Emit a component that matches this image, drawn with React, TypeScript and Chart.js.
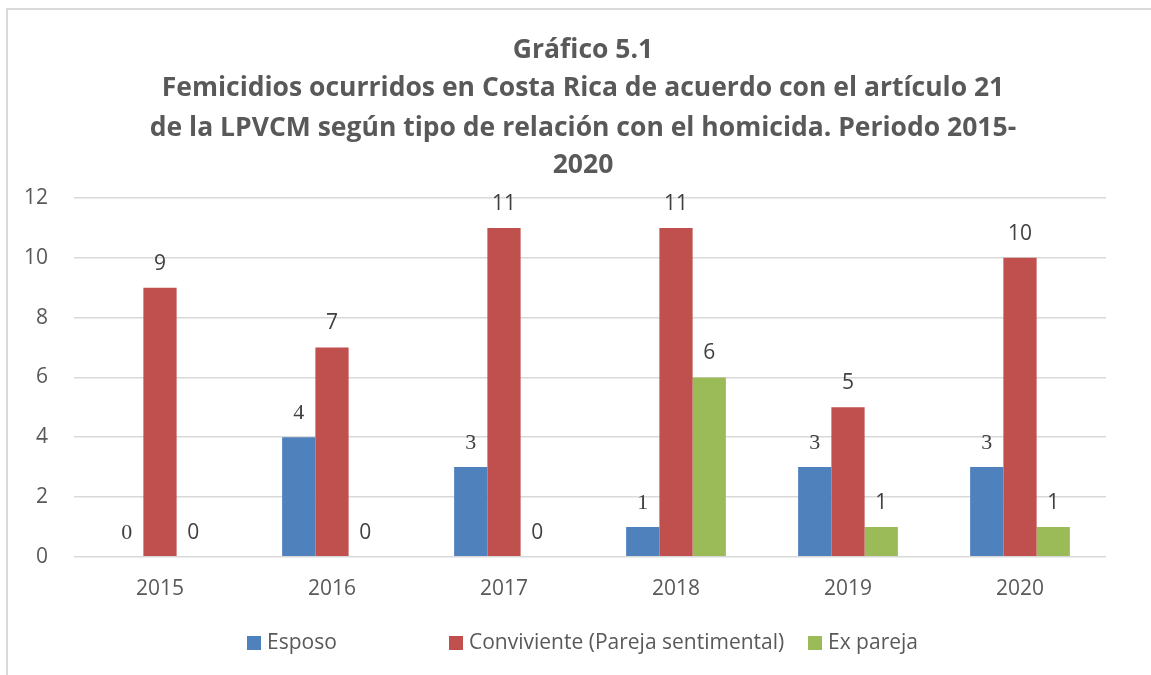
import React, { useEffect, useRef } from "react";
import { Chart, registerables } from "chart.js";

Chart.register(...registerables);

const categories = ["2015", "2016", "2017", "2018", "2019", "2020"];
const esposo = [0, 4, 3, 1, 3, 3];
const conviviente = [9, 7, 11, 11, 5, 10];
const exPareja = [0, 0, 0, 6, 1, 1];
const seriesNames = ["Esposo", "Conviviente (Pareja sentimental)", "Ex pareja"];
const seriesColors = ["#4F81BD", "#C0504D", "#9BBB59"];
const yMin = 0;
const yMax = 12;
const yStep = 2;
const titleLines = [
  "Gráfico 5.1",
  "Femicidios ocurridos en Costa Rica de acuerdo con el artículo 21",
  "de la LPVCM según tipo de relación con el homicida. Periodo 2015-",
  "2020",
];

const TEXT = "#595959";
const LABEL = "#404040";
const SANS = '"Open Sans", "Liberation Sans", sans-serif';
const SERIF = '"Liberation Serif", "DejaVu Serif", serif';

const titleLayout = { centerX: 583, ys: [50, 88, 128, 165], size: 26.5 };
const legendLayout = { y: 643, box: 14, gap: 6, xs: [247, 449, 808], size: 21 };

const titlePlugin = {
  id: "customTitle",
  afterDraw(chart: any) {
    const ctx = chart.ctx;
    ctx.save();
    ctx.fillStyle = TEXT;
    ctx.font = `bold ${titleLayout.size}px ${SANS}`;
    ctx.textAlign = "center";
    ctx.textBaseline = "middle";
    titleLines.forEach((t, i) => ctx.fillText(t, titleLayout.centerX, titleLayout.ys[i]));
    ctx.restore();
  },
};

const legendPlugin = {
  id: "customLegend",
  afterDraw(chart: any) {
    const ctx = chart.ctx;
    ctx.save();
    ctx.font = `${legendLayout.size}px ${SANS}`;
    ctx.textBaseline = "middle";
    ctx.textAlign = "left";
    chart.data.datasets.forEach((ds: any, i: number) => {
      const x = legendLayout.xs[i];
      ctx.fillStyle = ds.backgroundColor;
      ctx.fillRect(x, legendLayout.y - legendLayout.box / 2, legendLayout.box, legendLayout.box);
      ctx.fillStyle = TEXT;
      ctx.fillText(ds.label, x + legendLayout.box + legendLayout.gap, legendLayout.y);
    });
    ctx.restore();
  },
};

const valueLabelPlugin = {
  id: "valueLabels",
  afterDatasetsDraw(chart: any) {
    const ctx = chart.ctx;
    ctx.save();
    ctx.fillStyle = LABEL;
    ctx.textAlign = "center";
    ctx.textBaseline = "middle";
    chart.data.datasets.forEach((ds: any, i: number) => {
      const meta = chart.getDatasetMeta(i);
      ctx.font = i === 0 ? `22px ${SERIF}` : `21px ${SANS}`;
      meta.data.forEach((bar: any, j: number) => {
        ctx.fillText(String(ds.data[j]), bar.x, bar.y - 24);
      });
    });
    ctx.restore();
  },
};

export default function App() {
  const canvasRef = useRef<HTMLCanvasElement | null>(null);

  useEffect(() => {
    if (!canvasRef.current) return;
    const values = [esposo, conviviente, exPareja];
    const chart = new Chart(canvasRef.current, {
      type: "bar",
      data: {
        labels: categories,
        datasets: values.map((d, i) => ({
          label: seriesNames[i],
          data: d,
          backgroundColor: seriesColors[i],
          borderWidth: 0,
          barPercentage: 1,
          categoryPercentage: 0.58,
        })),
      },
      options: {
        responsive: false,
        animation: false,
        events: [],
        layout: { padding: { top: 198, right: 45, bottom: 53, left: 0 } },
        plugins: {
          legend: { display: false },
          title: { display: false },
          tooltip: { enabled: false },
        },
        scales: {
          x: {
            grid: { display: false, drawTicks: false },
            border: { display: false },
            ticks: { color: TEXT, font: { family: SANS, size: 21 }, padding: 20 },
          },
          y: {
            min: yMin,
            max: yMax,
            afterFit: (s: any) => {
              s.width = 74;
            },
            grid: { color: "#D9D9D9", lineWidth: 1.5, drawTicks: false },
            border: { display: false },
            ticks: { stepSize: yStep, color: TEXT, font: { family: SANS, size: 21 }, padding: 26 },
          },
        },
      },
      plugins: [valueLabelPlugin, titlePlugin, legendPlugin],
    });
    return () => chart.destroy();
  }, []);

  return (
    <div style={{ position: "fixed", left: 0, top: 0, width: 1151, height: 675, background: "#fff", overflow: "hidden" }}>
      <div
        style={{
          position: "absolute",
          left: 6,
          top: 8,
          width: 1300,
          height: 800,
          borderLeft: "2px solid #D9D9D9",
          borderTop: "2px solid #D9D9D9",
        }}
      />
      <canvas ref={canvasRef} width={1151} height={675} style={{ position: "absolute", left: 0, top: 0 }} />
    </div>
  );
}
